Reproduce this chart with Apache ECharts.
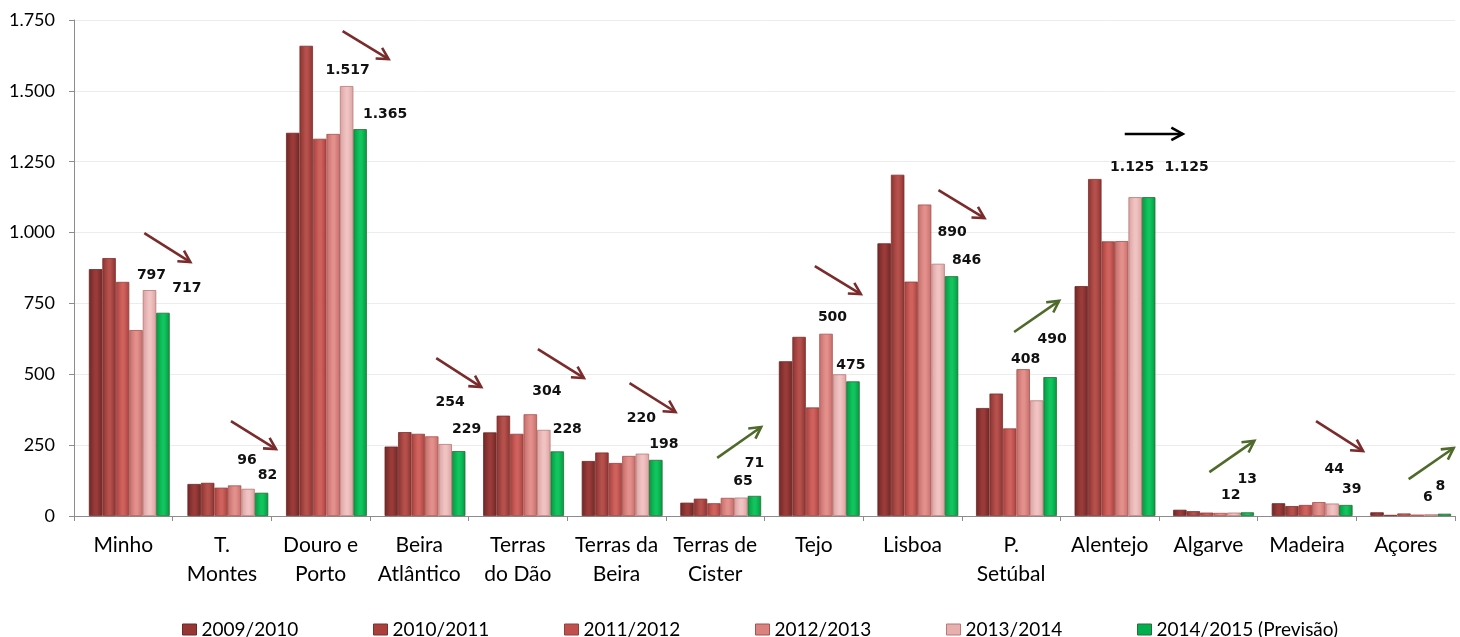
<!DOCTYPE html>
<html><head><meta charset="utf-8">
<script src="https://cdn.jsdelivr.net/npm/echarts@6/dist/echarts.min.js"></script>
<style>html,body{margin:0;padding:0;background:#fff}#c{width:1460px;height:637px}</style>
</head><body><div id="c"></div>
<script>
// ---- data ----
const categories = ["Minho","T.\nMontes","Douro e\nPorto","Beira\nAtlântico","Terras\ndo Dão","Terras da\nBeira","Terras de\nCister","Tejo","Lisboa","P.\nSetúbal","Alentejo","Algarve","Madeira","Açores"];
const seriesNames = ["2009/2010","2010/2011","2011/2012","2012/2013","2013/2014","2014/2015 (Previsão)"];
const v2009 = [871, 113, 1352, 245, 295, 194, 47, 546, 962, 381, 811, 22, 45, 13];
const v2010 = [910, 117, 1659, 296, 354, 224, 61, 632, 1204, 432, 1189, 17, 35, 4];
const v2011 = [826, 100, 1331, 290, 290, 187, 45, 383, 827, 309, 969, 12, 39, 9];
const v2012 = [656, 108, 1348, 281, 359, 212, 64, 643, 1099, 518, 970, 11, 49, 5];
const v2013 = [797, 96, 1517, 254, 304, 220, 65, 500, 890, 408, 1125, 12, 44, 6];
const v2014 = [717, 82, 1365, 229, 228, 198, 71, 475, 846, 490, 1125, 13, 39, 8];
const yTicks = [0, 250, 500, 750, 1000, 1250, 1500, 1750];
// trend arrows: [categoryIndex, startValue, endValue, trend(0 down,1 up,2 flat)]
const arrows = [
  [0, 998, 896, 0], [1, 335, 236, 0], [2, 1711, 1612, 0], [3, 557, 455, 0],
  [4, 589, 487, 0], [5, 469, 367, 0], [6, 205, 314, 1], [7, 882, 783, 0],
  [8, 1150, 1051, 0], [9, 649, 759, 1], [10, 1348, 1348, 2], [11, 155, 265, 1],
  [12, 335, 229, 0], [13, 130, 240, 1]
];
// ---- layout (pixel offsets, not data) ----
const arrowDx = [[21,67],[9,54],[22,68],[17,62],[20,66],[13,59],[2,46],[1,47],[26,72],[3,48],[15,73],[1,46],[9,56],[3,48]];
const lbl13 = [[2,-8],[-1,-21],[1,-9],[5,-35],[3,-31],[-1,-28],[2,-9],[-7,-50],[14,-24],[-11,-34],[-3,-23],[-3,-10],[2,-27],[-3,-10]];
const lbl14 = [[24,-17],[6,-10],[25,-8],[8,-15],[10,-15],[8,-9],[0,-26],[-2,-9],[15,-9],[2,-31],[38,-23],[0,-26],[6,-9],[-4,-20]];

const fmt = v => String(v).replace(/\B(?=(\d{3})+(?!\d))/g, '.');
const FONT = 'Lato, "Open Sans", sans-serif';

function grad(edge, mid) {
  return new echarts.graphic.LinearGradient(0, 0, 1, 0, [
    {offset: 0, color: edge}, {offset: 0.45, color: mid}, {offset: 0.6, color: mid}, {offset: 1, color: edge}
  ]);
}
const styles = [
  {edge:'#6e2726', mid:'#9a3b39', border:'#6e2726', legend:'#953735'},
  {edge:'#8a3330', mid:'#b5504c', border:'#7d2f2c', legend:'#a9403c'},
  {edge:'#a8403d', mid:'#d0625e', border:'#93403c', legend:'#c0504d'},
  {edge:'#c46e6b', mid:'#e38f8c', border:'#a8504d', legend:'#d9827f'},
  {edge:'#d9a2a1', mid:'#f0c3c2', border:'#b77877', legend:'#e6b0af'},
  {edge:'#009a42', mid:'#12c45e', border:'#2d6b35', legend:'#00b050'}
];
const vals = [v2009, v2010, v2011, v2012, v2013, v2014];

const barSeries = vals.map((arr, i) => {
  const s = styles[i];
  const data = arr.map((v, j) => {
    const item = {value: v};
    if (i === 4 || i === 5) {
      const off = (i === 4 ? lbl13 : lbl14)[j];
      item.label = {show: true, offset: off};
    }
    return item;
  });
  return {
    name: seriesNames[i], type: 'bar', data, xAxisIndex: 1, yAxisIndex: 1,
    barGap: '0%', barCategoryGap: '18%',
    itemStyle: {color: grad(s.edge, s.mid), borderColor: s.border, borderWidth: 0.8},
    label: {show: false, position: 'top', distance: 0, formatter: p => fmt(p.value),
      fontFamily: '"DejaVu Sans", Verdana, sans-serif', fontWeight: 'bold', fontSize: 14, color: '#111'},
    emphasis: {disabled: true}
  };
});

const arrowColors = ['#7a2b2b', '#4f6a2a', '#000000'];
const arrowSeries = {
  type: 'custom', name: 'arrows', silent: true, z: 10, xAxisIndex: 0, yAxisIndex: 0,
  data: arrows.map((a, i) => [a[0], a[1], a[2], arrowDx[i][0], arrowDx[i][1], a[3]]),
  encode: {x: 0, y: 1},
  renderItem: function (params, api) {
    const c1 = api.coord([api.value(0), api.value(1)]);
    const c2 = api.coord([api.value(0), api.value(2)]);
    const x1 = c1[0] + api.value(3), x2 = c1[0] + api.value(4);
    const y1 = c1[1], y2 = c2[1];
    const col = arrowColors[api.value(5)];
    const ang = Math.atan2(y2 - y1, x2 - x1);
    const L = 13, A = 0.5;
    const h1 = [x2 - L * Math.cos(ang - A), y2 - L * Math.sin(ang - A)];
    const h2 = [x2 - L * Math.cos(ang + A), y2 - L * Math.sin(ang + A)];
    return {type: 'group', children: [
      {type: 'line', shape: {x1, y1, x2, y2}, style: {stroke: col, lineWidth: 2.6}},
      {type: 'polyline', shape: {points: [h1, [x2, y2], h2]}, style: {stroke: col, fill: null, lineWidth: 2.6}}
    ]};
  }
};

const legends = seriesNames.map((n, i) => ({
  data: [{name: n, itemStyle: {color: styles[i].legend, borderColor: styles[i].border, borderWidth: 1}}],
  left: 177 + i * 191, top: 615, icon: 'rect', itemWidth: 14, itemHeight: 11, itemTextGap: 4,
  textStyle: {fontFamily: FONT, fontSize: 19, color: '#000'},
  selectedMode: false
}));

const yMin = yTicks[0], yMax = yTicks[yTicks.length - 1], yStep = yTicks[1] - yTicks[0];
const chart = echarts.init(document.getElementById('c'), null, {renderer: 'canvas'});
chart.setOption({
  animation: false,
  grid: [
    {left: 74, right: 5, top: 20, bottom: 121, containLabel: false},
    {left: 80, right: -1, top: 20, bottom: 121, containLabel: false}
  ],
  legend: legends,
  xAxis: [{
    type: 'category', data: categories, gridIndex: 0,
    axisLine: {lineStyle: {color: '#8c8c8c', width: 1}},
    axisTick: {show: true, length: 5, lineStyle: {color: '#8c8c8c'}},
    axisLabel: {fontFamily: FONT, fontSize: 21, color: '#000', lineHeight: 29, margin: 15, interval: 0}
  }, {
    type: 'category', data: categories, gridIndex: 1, show: false
  }],
  yAxis: [{
    type: 'value', gridIndex: 0, min: yMin, max: yMax, interval: yStep,
    axisLine: {show: true, lineStyle: {color: '#8c8c8c'}},
    axisTick: {show: true, length: 5, lineStyle: {color: '#8c8c8c'}},
    splitLine: {lineStyle: {color: '#ececec', width: 1}},
    axisLabel: {fontFamily: FONT, fontSize: 18, color: '#000', margin: 19, formatter: v => fmt(v)}
  }, {
    type: 'value', gridIndex: 1, min: yMin, max: yMax, interval: yStep, show: false, splitLine: {show: false}
  }],
  series: [...barSeries, arrowSeries]
});
</script></body></html>
